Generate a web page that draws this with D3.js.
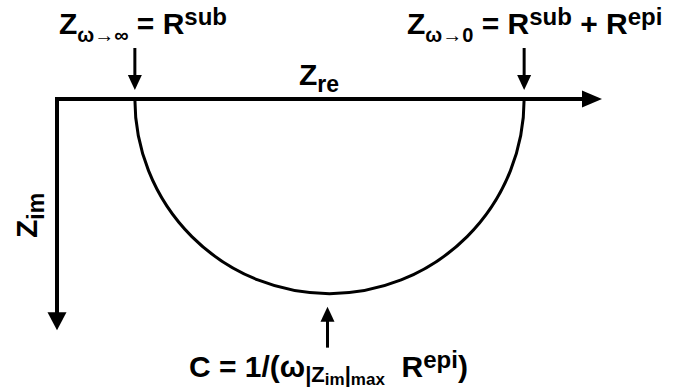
<!DOCTYPE html>
<html>
<head>
<meta charset="utf-8">
<script src="https://cdn.jsdelivr.net/npm/d3@7"></script>
<style>
body{margin:0;background:#fff}
text{font-family:"Liberation Sans",Arial,sans-serif;font-weight:bold;fill:#000;white-space:pre}
</style>
</head>
<body>
<svg id="nyquist"></svg>
<script>
// equivalent circuit values (arbitrary units)
var resistances = [1, 5];          // R_sub, R_epi
var zReExtent = [0, 7];            // real axis
var zImExtent = [0, 2.97];         // -imaginary axis (drawn downward)

// label pieces: text, font size, baseline shift
var leftLabel = [["Z",30,0],["ω→∞",20,8],[" = R",30,-8],["sub",24,-9]];
var rightLabel = [["Z",30,0],["ω→0",20,8],[" = R",30,-8],["sub",24,-9],[" + R",30,9],["epi",24,-9]];
var reLabel = [["Z",30,0],["re",23,7]];
var imLabel = [["Z",30,0],["im",23,7]];
var capLabel = [["C = 1/(ω",30,0],["|Z",22,5],["im",17,3],["|",22,-3],["max",17,3],["  R",30,-8],["epi",24,-9],[")",30,9]];

var screen = {width:678, height:390};
var origin = {x:57, y:99};
var reEnd = 602;

var svg = d3.select("#nyquist")
    .attr("width",screen.width)
    .attr("height",screen.height)

var xScale = d3.scaleLinear()
    .domain(zReExtent)
    .range([origin.x, reEnd])

//same unit length on both axes so the arc is a circle
var unit = xScale(1) - xScale(0);
var yScale = d3.scaleLinear()
    .domain(zImExtent)
    .range([origin.y, origin.y + unit*zImExtent[1]])

var drawArrow = function(g,x1,y1,x2,y2,headLen,headHalf,width)
{
    var dx = x2-x1, dy = y2-y1;
    var len = Math.sqrt(dx*dx+dy*dy);
    var ux = dx/len, uy = dy/len;
    var bx = x2-ux*headLen, by = y2-uy*headLen;
    g.append("line")
        .attr("x1",x1).attr("y1",y1)
        .attr("x2",bx+ux).attr("y2",by+uy)
        .attr("stroke","#000")
        .attr("stroke-width",width)
    g.append("path")
        .attr("d","M"+x2+","+y2+
              "L"+(bx-uy*headHalf)+","+(by+ux*headHalf)+
              "L"+(bx+uy*headHalf)+","+(by-ux*headHalf)+"Z")
        .attr("fill","#000")
}

var richText = function(g,parts)
{
    var t = g.append("text");
    parts.forEach(function(p)
    {
        t.append("tspan")
            .text(p[0])
            .attr("font-size",p[1])
            .attr("dy",p[2])
    })
    return t;
}

//axes
var axes = svg.append("g").classed("axes",true);
drawArrow(axes,xScale(0)-2,yScale(0),xScale(zReExtent[1]),yScale(0),20,8.5,4);
drawArrow(axes,xScale(0),yScale(0)-2,xScale(0),yScale(zImExtent[1]),18,9.5,4);

//semicircle
var rSub = resistances[0], rEpi = resistances[1];
var cx = xScale(rSub + rEpi/2);
var r = xScale(rSub + rEpi) - cx;
var arc = d3.path();
arc.moveTo(cx + r, yScale(0));
arc.arc(cx, yScale(0), r, 0, Math.PI);
svg.append("path")
    .attr("d",arc.toString())
    .attr("fill","none")
    .attr("stroke","#000")
    .attr("stroke-width",3)

//annotation arrows
var notes = svg.append("g").classed("notes",true);
drawArrow(notes,xScale(rSub),yScale(0)-51,xScale(rSub),yScale(0)-9,15,7,3);
drawArrow(notes,xScale(rSub+rEpi),yScale(0)-51,xScale(rSub+rEpi),yScale(0)-9,15,7,3);
var bottom = yScale(0) + r;
drawArrow(notes,cx-2,bottom+54,cx-2,bottom+13,15,7,3);

//labels
richText(svg,leftLabel).attr("x",59).attr("y",34)
richText(svg,rightLabel).attr("x",407).attr("y",34)
richText(svg,reLabel).attr("x",299).attr("y",85)
richText(svg,capLabel).attr("x",189).attr("y",377)
richText(svg.append("g").attr("transform","translate(37,238) rotate(-90)"),imLabel)
</script>
</body>
</html>
